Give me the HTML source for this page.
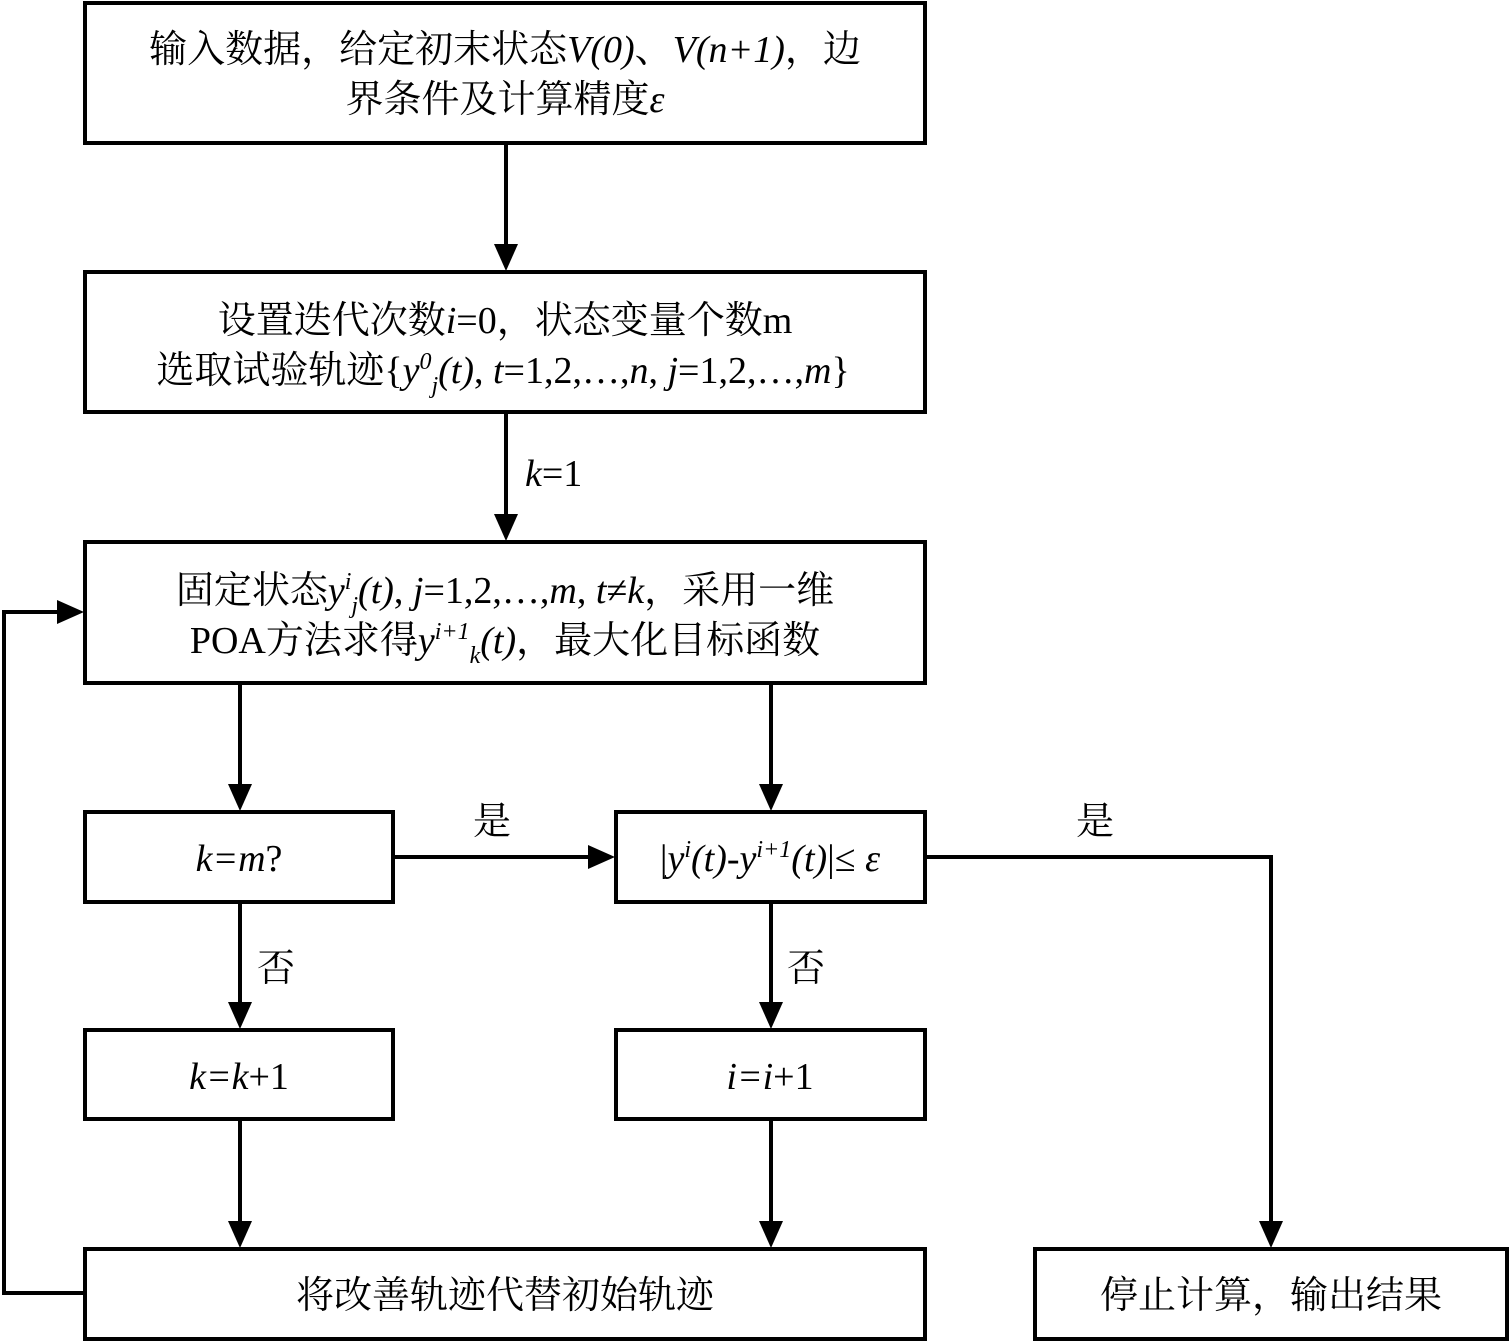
<!DOCTYPE html>
<html><head><meta charset="utf-8">
<style>
html,body{margin:0;padding:0;background:#fff;}
svg{display:block;}
text{font-family:"Liberation Serif","Noto Serif CJK SC",serif;font-size:38px;fill:#000;}
.i{font-style:italic;}
.s{font-size:24px;}
</style></head><body>
<svg width="1510" height="1342" viewBox="0 0 1510 1342" xmlns="http://www.w3.org/2000/svg">
<defs>
<marker id="a" markerWidth="10" markerHeight="10" refX="9" refY="5" orient="auto" markerUnits="userSpaceOnUse" viewBox="0 0 10 10">
</marker>
</defs>
<g fill="none" stroke="#000" stroke-width="4">
<rect x="85" y="3" width="840" height="140"/>
<rect x="85" y="272" width="840" height="140"/>
<rect x="85" y="542" width="840" height="141"/>
<rect x="85" y="812" width="308" height="90"/>
<rect x="616" y="812" width="309" height="90"/>
<rect x="85" y="1030" width="308" height="89"/>
<rect x="616" y="1030" width="309" height="89"/>
<rect x="85" y="1249" width="840" height="90"/>
<rect x="1035" y="1249" width="472" height="90"/>
<!-- connectors -->
<path d="M506 144V246"/>
<path d="M506 413V516"/>
<path d="M240 684V786"/>
<path d="M771 684V786"/>
<path d="M394 857H590"/>
<path d="M926 857H1271V1223"/>
<path d="M240 903V1004"/>
<path d="M771 903V1004"/>
<path d="M240 1120V1223"/>
<path d="M771 1120V1223"/>
<path d="M84 1293H4V612H59"/>
</g>
<g fill="#000">
<polygon points="494,244 518,244 506,271"/>
<polygon points="494,514 518,514 506,541"/>
<polygon points="228,784 252,784 240,811"/>
<polygon points="759,784 783,784 771,811"/>
<polygon points="588,845 588,869 615,857"/>
<polygon points="1259,1221 1283,1221 1271,1248"/>
<polygon points="228,1002 252,1002 240,1029"/>
<polygon points="759,1002 783,1002 771,1029"/>
<polygon points="228,1221 252,1221 240,1248"/>
<polygon points="759,1221 783,1221 771,1248"/>
<polygon points="57,600 57,624 84,612"/>
</g>
<text x="505" y="62" text-anchor="middle">输入数据，给定初末状态<tspan class="i">V(0)</tspan>、<tspan class="i">V(n+1)</tspan>，边</text>
<text x="505" y="112" text-anchor="middle">界条件及计算精度<tspan class="i">ε</tspan></text>
<text x="505" y="333" text-anchor="middle">设置迭代次数<tspan class="i">i</tspan>=0，状态变量个数m</text>
<text x="503" y="383" text-anchor="middle">选取试验轨迹{<tspan class="i">y</tspan><tspan class="i s" dy="-14">0</tspan><tspan class="i s" dy="24">j</tspan><tspan class="i" dy="-10">(t)</tspan>, <tspan class="i">t</tspan>=1,2,…,<tspan class="i">n</tspan>, <tspan class="i">j</tspan>=1,2,…,<tspan class="i">m</tspan>}</text>
<text x="525" y="486" class="i">k<tspan style="font-style:normal">=1</tspan></text>
<text x="505" y="603" text-anchor="middle">固定状态<tspan class="i">y</tspan><tspan class="i s" dy="-14">i</tspan><tspan class="i s" dy="24">j</tspan><tspan class="i" dy="-10">(t)</tspan>, <tspan class="i">j</tspan>=1,2,…,<tspan class="i">m</tspan>, <tspan class="i">t</tspan>≠<tspan class="i">k</tspan>，采用一维</text>
<text x="505" y="653" text-anchor="middle">POA方法求得<tspan class="i">y</tspan><tspan class="i s" dy="-14">i+1</tspan><tspan class="i s" dy="24">k</tspan><tspan class="i" dy="-10">(t)</tspan>，最大化目标函数</text>
<text x="239" y="871" text-anchor="middle" class="i">k=m<tspan style="font-style:normal">?</tspan></text>
<text x="770" y="871" text-anchor="middle">|<tspan class="i">y</tspan><tspan class="i s" dy="-14">i</tspan><tspan class="i" dy="14">(t)-y</tspan><tspan class="i s" dy="-14">i+1</tspan><tspan class="i" dy="14">(t)</tspan>|≤ <tspan class="i">ε</tspan></text>
<text x="492" y="834" text-anchor="middle">是</text>
<text x="1095" y="834" text-anchor="middle">是</text>
<text x="276" y="981" text-anchor="middle">否</text>
<text x="806" y="981" text-anchor="middle">否</text>
<text x="239" y="1089" text-anchor="middle" class="i">k=k<tspan style="font-style:normal">+1</tspan></text>
<text x="770" y="1089" text-anchor="middle" class="i">i=i<tspan style="font-style:normal">+1</tspan></text>
<text x="505" y="1308" text-anchor="middle">将改善轨迹代替初始轨迹</text>
<text x="1271" y="1308" text-anchor="middle">停止计算，输出结果</text>
</svg>
</body></html>
